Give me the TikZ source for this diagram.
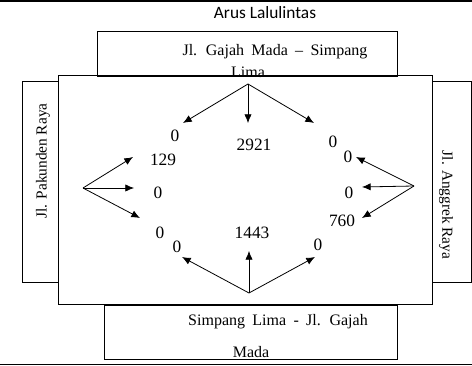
\documentclass[tikz,border=0pt]{standalone}
\usepackage{fontspec}
\setmainfont{Liberation Serif}
\newfontfamily\calibri{Carlito}
\usetikzlibrary{arrows.meta}
\newcommand\widegaps{\spaceskip=5.5pt\relax}

\begin{document}
\begin{tikzpicture}[x=0.75pt, y=-0.75pt,
	box/.style={draw, line width=0.75pt},
	flow/.style={line width=0.6pt, -{Latex[length=6.5pt, width=5.5pt]}},
	count/.style={inner sep=0pt, font=\fontsize{13}{15}\selectfont},
	road/.style={inner sep=0pt, font=\fontsize{12}{14}\selectfont},
	side/.style={inner sep=0pt, font=\fontsize{11.5}{13}\selectfont}]
	\useasboundingbox (0,0) rectangle (472,366);

	% rules above and below
	\draw[line width=1.5pt] (0,1) -- (472,1);
	\draw[line width=0.75pt] (0,365) -- (472,365);
	\node[inner sep=0pt, font=\calibri\fontsize{13}{15}\selectfont] (title) at (265,13) {Arus Lalulintas};

	% roads
	\draw[box] (58,76) rectangle (432,305);
	\draw[box] (97,32) rectangle (397,77);
	\draw[box] (22,82) rectangle (58,283);
	\draw[box] (432,82) rectangle (471,283);
	\draw[box] (104,306) rectangle (397,360);

	\node[road] (northA) at (275,52) {\widegaps Jl. Gajah Mada -- Simpang};
	\node[road] (northB) at (248,72) {Lima};
	\node[road] (southA) at (278,322) {\widegaps Simpang Lima - Jl. Gajah};
	\node[road] (southB) at (251,352) {Mada};
	\node[side, rotate=90] (west) at (43,161) {Jl. Pakunden Raya};
	\node[side, rotate=-90] (east) at (446,205) {Jl. Anggrek Raya};

	% origins
	\coordinate (northO) at (248,84);
	\coordinate (westO) at (83,188);
	\coordinate (eastO) at (414,186);
	\coordinate (southO) at (249,293);

	% arrow ends
	\coordinate (nL) at (183,123);
	\coordinate (nS) at (248,123);
	\coordinate (nR) at (314,123);
	\coordinate (wL) at (133,157);
	\coordinate (wS) at (134,188);
	\coordinate (wR) at (140,218);
	\coordinate (eL) at (356,157);
	\coordinate (eS) at (362,187);
	\coordinate (eR) at (362,218);
	\coordinate (sL) at (182,257);
	\coordinate (sS) at (249,251);
	\coordinate (sR) at (315,257);

	\draw[flow] (northO) -- (nL);
	\draw[flow] (northO) -- (nS);
	\draw[flow] (northO) -- (nR);
	\draw[flow] (westO) -- (wL);
	\draw[flow] (westO) -- (wS);
	\draw[flow] (westO) -- (wR);
	\draw[flow] (eastO) -- (eL);
	\draw[flow] (eastO) -- (eS);
	\draw[flow] (eastO) -- (eR);
	\draw[flow] (southO) -- (sL);
	\draw[flow] (southO) -- (sS);
	\draw[flow] (southO) -- (sR);

	% counts
	\node[count] (cNL) at (175,136) {0};
	\node[count] (cNS) at (254,145) {2921};
	\node[count] (cNR) at (333,142) {0};
	\node[count] (cWL) at (163,160) {129};
	\node[count] (cWS) at (158,193) {0};
	\node[count] (cWR) at (160,233) {0};
	\node[count] (cEL) at (348,157) {0};
	\node[count] (cES) at (349,193) {0};
	\node[count] (cER) at (342,221) {760};
	\node[count] (cSL) at (177,247) {0};
	\node[count] (cSS) at (252,233) {1443};
	\node[count] (cSR) at (318,245) {0};
\end{tikzpicture}
\end{document}
